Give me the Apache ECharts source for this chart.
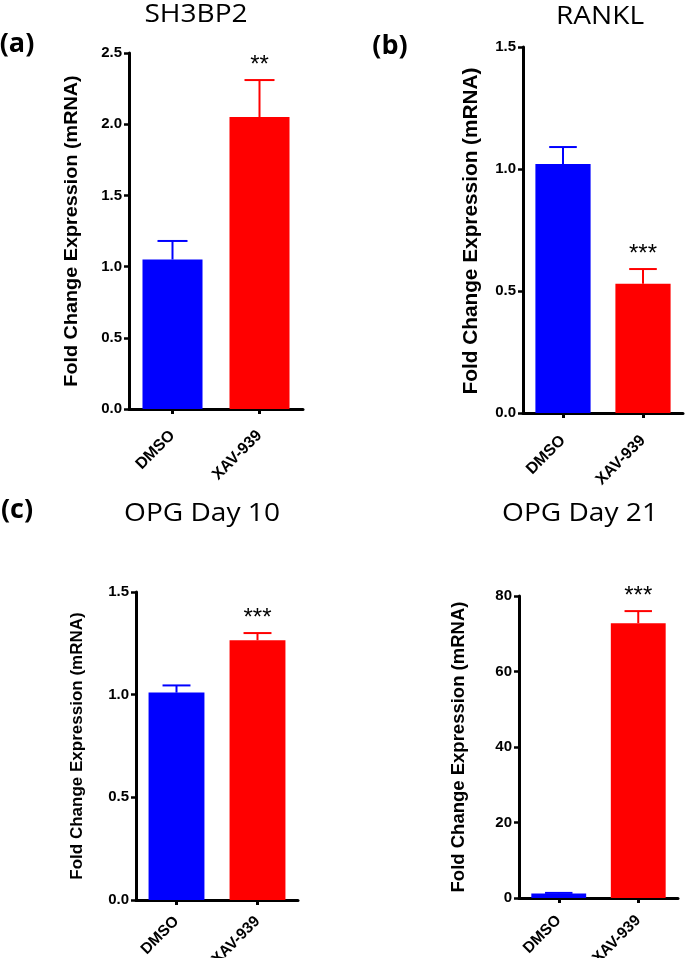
<!DOCTYPE html>
<html>
<head>
<meta charset="utf-8">
<script src="https://cdn.jsdelivr.net/npm/echarts@6/dist/echarts.min.js"></script>
<style>
html,body{margin:0;padding:0;background:#fff;}
#chart{width:685px;height:958px;}
</style>
</head>
<body>
<div id="chart"></div>
<script>
// ---- data ----
const categories = ['DMSO', 'XAV-939'];
const barColors = ['#0000FF', '#FF0000'];

const sh3bp2Mean = [1.05, 2.05];
const sh3bp2Sem = [0.13, 0.26];
const sh3bp2Sig = ['', '**'];
const sh3bp2Axis = [0, 2.5, 0.5];

const ranklMean = [1.02, 0.53];
const ranklSem = [0.07, 0.06];
const ranklSig = ['', '***'];
const ranklAxis = [0, 1.5, 0.5];

const opg10Mean = [1.01, 1.265];
const opg10Sem = [0.035, 0.035];
const opg10Sig = ['', '***'];
const opg10Axis = [0, 1.5, 0.5];

const opg21Mean = [1.2, 72.8];
const opg21Sem = [0.15, 3.2];
const opg21Sig = ['', '***'];
const opg21Axis = [0, 80, 20];

const panelTitles = ['SH3BP2', 'RANKL', 'OPG Day 10', 'OPG Day 21'];
const panelLetters = ['(a)', '(b)', '(c)'];
const yAxisTitle = 'Fold Change Expression (mRNA)';

// ---- layout ----
const grids = [
  {left: 129, top: 53, width: 174, height: 356},
  {left: 523, top: 47, width: 160, height: 366},
  {left: 136, top: 592, width: 162, height: 308},
  {left: 519, top: 596, width: 159, height: 302}
];
const axes = [sh3bp2Axis, ranklAxis, opg10Axis, opg21Axis];
const means = [sh3bp2Mean, ranklMean, opg10Mean, opg21Mean];
const sems = [sh3bp2Sem, ranklSem, opg10Sem, opg21Sem];
const sigs = [sh3bp2Sig, ranklSig, opg10Sig, opg21Sig];
const decimals = [1, 1, 1, 0];
const xLabelMargins = [24, 25, 19, 20];
const xLabelSizes = [16, 16, 15.5, 15.5];

const titlePos = [[196, 15], [600, 17], [202, 514], [580, 514]];
const letterPos = [[17, 44], [390, 46], [17, 510]];
const yLabelPos = [
  {x: 72, y: 231, size: 18, sx: 1.1},
  {x: 471, y: 231, size: 20, sx: 1.04},
  {x: 77, y: 746, size: 17, sx: 1.0},
  {x: 459, y: 747, size: 18.5, sx: 1.0}
];

const BAR_RATIO = 0.69;
const FONT = '"Liberation Sans", Arial, sans-serif';
const chart = echarts.init(document.getElementById('chart'), null, {renderer: 'canvas'});

const option = {
  backgroundColor: '#fff',
  animation: false,
  grid: grids.map(g => Object.assign({containLabel: false, outerBoundsMode: 'none'}, g)),
  xAxis: grids.map((g, i) => ({
    type: 'category', gridIndex: i, data: categories,
    axisLine: {show: true, onZero: false, lineStyle: {color: '#000', width: 3}},
    axisTick: {show: true, alignWithLabel: true, length: 5, lineStyle: {color: '#000', width: 3}},
    axisLabel: {rotate: 45, margin: xLabelMargins[i], color: '#000', fontWeight: 'bold', fontSize: xLabelSizes[i],
                fontFamily: FONT, interval: 0},
    splitLine: {show: false}
  })),
  yAxis: grids.map((g, i) => ({
    type: 'value', gridIndex: i, min: axes[i][0], max: axes[i][1], interval: axes[i][2],
    axisLine: {show: true, lineStyle: {color: '#000', width: 3}},
    axisTick: {show: true, inside: false, length: 5, lineStyle: {color: '#000', width: 2.5}},
    axisLabel: {margin: 7, color: '#000', fontWeight: 'bold', fontSize: 15,
                fontFamily: FONT,
                formatter: v => v.toFixed(decimals[i])},
    splitLine: {show: false}
  })),
  series: [],
  graphic: []
};

means.forEach((m, i) => {
  option.series.push({
    type: 'bar', xAxisIndex: i, yAxisIndex: i, barWidth: (BAR_RATIO * 100) + '%', z: 2,
    data: m.map((v, k) => ({value: v, itemStyle: {color: barColors[k]}}))
  });
  const sem = sems[i], sig = sigs[i];
  option.series.push({
    type: 'custom', xAxisIndex: i, yAxisIndex: i, z: 3,
    data: m.map((v, k) => [k, v, v + sem[k]]),
    renderItem: (params, api) => {
      const k = params.dataIndex;
      const base = api.coord([api.value(0), api.value(1)]);
      const top = api.coord([api.value(0), api.value(2)]);
      const bw = api.size([1, 0])[0] * BAR_RATIO;
      const half = bw / 4;
      const c = barColors[k];
      const children = [
        {type: 'line', shape: {x1: base[0], y1: base[1], x2: base[0], y2: top[1]}, style: {stroke: c, lineWidth: 2}},
        {type: 'line', shape: {x1: base[0] - half, y1: top[1], x2: base[0] + half, y2: top[1]}, style: {stroke: c, lineWidth: 2}}
      ];
      if (sig[k]) {
        children.push({type: 'text', x: base[0], y: top[1] - 15,
          style: {text: sig[k], align: 'center', verticalAlign: 'middle', textAlign: 'center', textVerticalAlign: 'middle',
                  font: '24px ' + FONT, fill: '#000'}});
      }
      return {type: 'group', children};
    }
  });
});

panelTitles.forEach((t, i) => {
  option.graphic.push({
    type: 'text', x: titlePos[i][0], y: titlePos[i][1], scaleX: 1.08,
    style: {text: t, align: 'center', verticalAlign: 'middle', textAlign: 'center', textVerticalAlign: 'middle',
            font: '26px "Open Sans", sans-serif', fill: '#000'}
  });
});
panelLetters.forEach((t, i) => {
  option.graphic.push({
    type: 'text', x: letterPos[i][0], y: letterPos[i][1],
    style: {text: t, align: 'center', verticalAlign: 'middle', textAlign: 'center', textVerticalAlign: 'middle',
            font: 'bold 27px "Open Sans", sans-serif', fill: '#000'}
  });
});
yLabelPos.forEach(p => {
  option.graphic.push({
    type: 'text', x: p.x, y: p.y, rotation: Math.PI / 2, scaleX: p.sx,
    style: {text: yAxisTitle, align: 'center', verticalAlign: 'middle', textAlign: 'center', textVerticalAlign: 'middle',
            font: 'bold ' + p.size + 'px ' + FONT, fill: '#000'}
  });
});

chart.setOption(option);
</script>
</body>
</html>
